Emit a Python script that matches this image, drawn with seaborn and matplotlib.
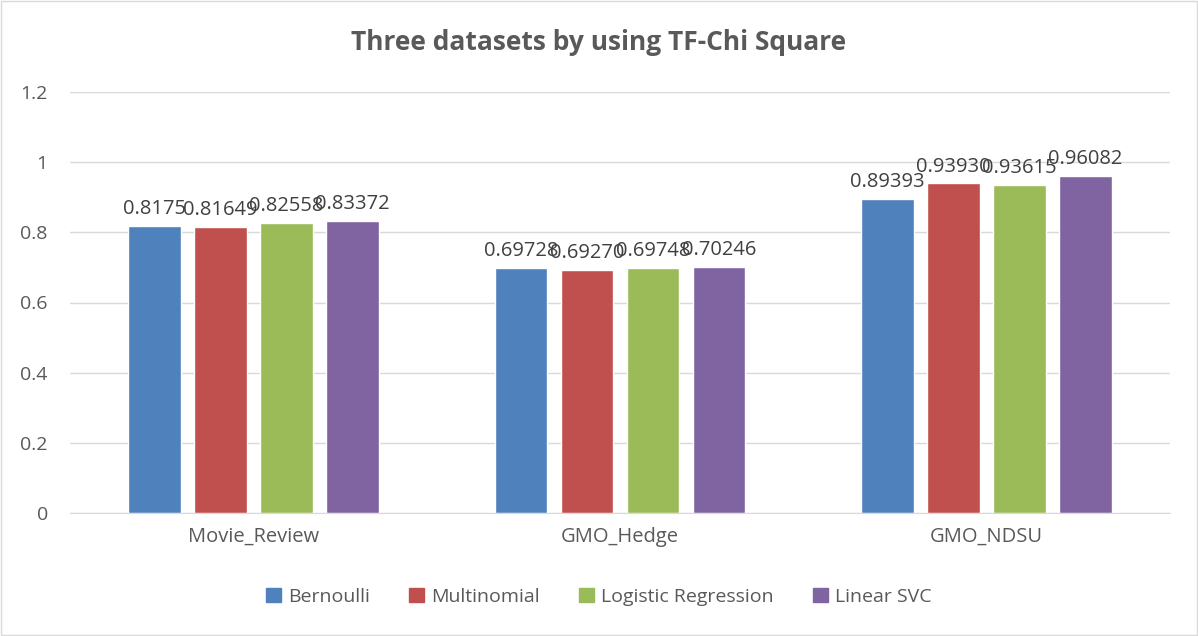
import pandas as pd
import matplotlib.pyplot as plt
import seaborn as sns
from matplotlib.patches import Rectangle

datasets = ["Movie_Review", "GMO_Hedge", "GMO_NDSU"]
bernoulli = [0.8175, 0.69728, 0.89393]
multinomial = [0.81649, 0.69270, 0.93930]
logistic = [0.82558, 0.69748, 0.93615]
linear_svc = [0.83372, 0.70246, 0.96082]
# labels as printed on the chart (trailing zeros kept)
bernoulli_lbl = ["0.8175", "0.69728", "0.89393"]
multinomial_lbl = ["0.81649", "0.69270", "0.93930"]
logistic_lbl = ["0.82558", "0.69748", "0.93615"]
linear_svc_lbl = ["0.83372", "0.70246", "0.96082"]
methods = ["Bernoulli", "Multinomial", "Logistic Regression", "Linear SVC"]
colors = ["#4F81BD", "#C0504D", "#9BBB59", "#8064A2"]

rows = []
for m, vals in zip(methods, [bernoulli, multinomial, logistic, linear_svc]):
    for d, v in zip(datasets, vals):
        rows.append({"dataset": d, "method": m, "score": v})
df = pd.DataFrame(rows)

sns.set_style("white")
plt.rcParams['font.family'] = ['Open Sans', 'DejaVu Sans']
txt = "#595959"

fig = plt.figure(figsize=(11.98, 6.36), dpi=100)
ax = fig.add_axes([70/1198, 1 - 513/636, 1100/1198, 421/636])
sns.barplot(data=df, x="dataset", y="score", hue="method", palette=colors,
            width=0.72, gap=0.205, ax=ax, legend=False, saturation=1)

for cont, lbls in zip(ax.containers, [bernoulli_lbl, multinomial_lbl, logistic_lbl, linear_svc_lbl]):
    ax.bar_label(cont, labels=lbls, padding=5, fontsize=14.5, color="#404040")

ax.set_ylim(0, 1.2)
ax.set_yticks([0, 0.2, 0.4, 0.6, 0.8, 1, 1.2])
ax.set_yticklabels(["0", "0.2", "0.4", "0.6", "0.8", "1", "1.2"])
ax.yaxis.grid(True, color="#D9D9D9", lw=1)
ax.set_axisbelow(True)
for s in ["left", "right", "top"]:
    ax.spines[s].set_visible(False)
ax.spines["bottom"].set_color("#D9D9D9")
ax.tick_params(axis="x", length=0, labelsize=14.5, colors=txt, pad=10)
ax.tick_params(axis="y", length=0, labelsize=14, colors=txt, pad=16)
ax.set_xlabel("")
ax.set_ylabel("")

fig.suptitle("Three datasets by using TF-Chi Square", y=1 - 42/636, va="center",
             fontsize=19, fontweight="bold", color=txt)

handles = [Rectangle((0, 0), 1, 1, color=c) for c in colors]
fig.legend(handles, methods, loc="center", bbox_to_anchor=(0.5, 1 - 597/636),
           ncol=4, frameon=False, fontsize=14, labelcolor=txt,
           handlelength=0.75, handleheight=0.75, handletextpad=0.4, columnspacing=2.0)

fig.add_artist(Rectangle((0.001, 0.001), 0.998, 0.997, transform=fig.transFigure,
                         fill=False, edgecolor="#D9D9D9", lw=1))

fig.savefig("out.png", dpi=100)
